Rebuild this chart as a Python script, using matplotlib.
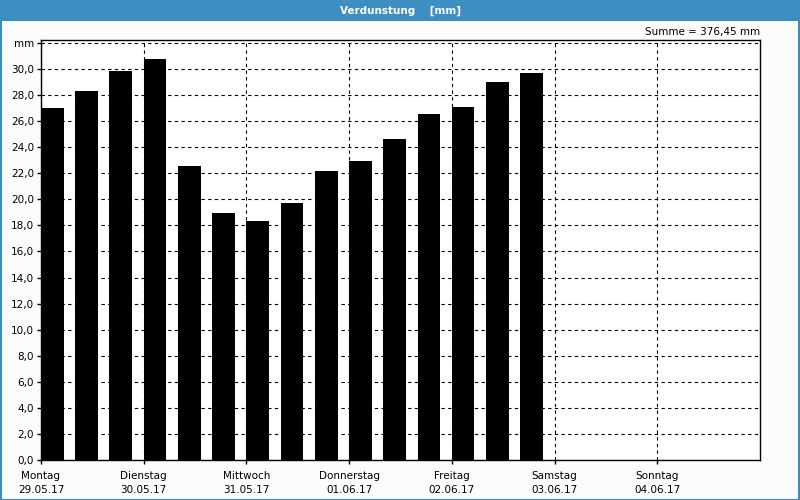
import matplotlib.pyplot as plt
from matplotlib.patches import Rectangle
from matplotlib.lines import Line2D

# evaporation in mm, one bar per 8 hours
werte = [27.04, 28.34, 29.88, 30.80, 22.59, 18.98, 18.37, 19.75,
         22.20, 22.97, 24.66, 26.58, 27.11, 29.03, 29.72]
tage = ['Montag', 'Dienstag', 'Mittwoch', 'Donnerstag', 'Freitag', 'Samstag', 'Sonntag']
daten = ['29.05.17', '30.05.17', '31.05.17', '01.06.17', '02.06.17', '03.06.17', '04.06.17']
y_ticks = [0, 2, 4, 6, 8, 10, 12, 14, 16, 18, 20, 22, 24, 26, 28, 30, 32]
summe = '376,45'

blau = '#3d8fc3'
fs = 7.5

fig = plt.figure(figsize=(8, 5), dpi=100, facecolor='#fcfcfc')

# title bar and frame
fig.add_artist(Rectangle((0, 0.958), 1, 0.042, transform=fig.transFigure,
                         facecolor=blau, edgecolor='none'))
fig.text(0.5, 0.979, 'Verdunstung    [mm]', color='white', fontweight='bold',
         ha='center', va='center', fontsize=fs)
for xs, ys in [([0.0007, 0.0007], [0, 1]), ([0.9993, 0.9993], [0, 1]), ([0, 1], [0.001, 0.001])]:
    fig.add_artist(Line2D(xs, ys, transform=fig.transFigure, color=blau, lw=1.5))

ax = fig.add_axes([0.05125, 0.08, 0.89875, 0.84])
ax.set_facecolor('white')

x = [i / 3 for i in range(len(werte))]
ax.bar(x, werte, width=0.22, align='edge', color='black', zorder=3)

ax.set_xlim(0, 7)
ax.set_ylim(0, 32.23)

ax.set_yticks(y_ticks)
ax.set_yticklabels([f'{v:.1f}'.replace('.', ',') for v in y_ticks[:-1]] + ['mm'], fontsize=fs)
ax.set_xticks(range(7))
ax.set_xticklabels([f'{t}\n{d}' for t, d in zip(tage, daten)], fontsize=fs, linespacing=1.5)
ax.tick_params(length=3, width=1, pad=2, color='black')
ax.tick_params(axis='x', pad=5)

ax.grid(True, color='black', linestyle=(0, (3, 3)), linewidth=0.8, zorder=1)
ax.set_axisbelow(True)
for s in ax.spines.values():
    s.set_linewidth(1)

fig.text(0.95, 0.936, f'Summe = {summe} mm', ha='right', va='center', fontsize=fs)

fig.savefig('out.png', dpi=100, facecolor=fig.get_facecolor())
